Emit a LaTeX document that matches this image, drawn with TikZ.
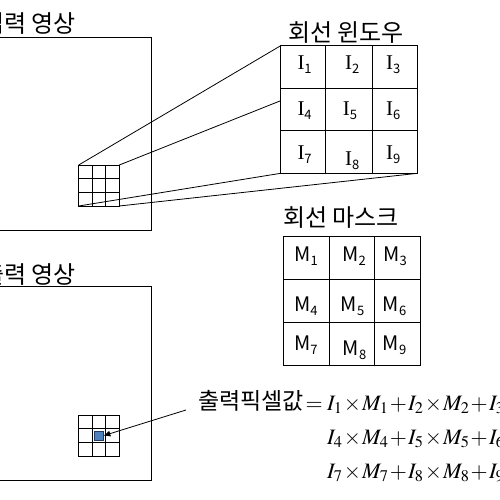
\documentclass[tikz,border=0pt]{standalone}
\usepackage{mathptmx}
\usepackage{fontspec}
\usetikzlibrary{arrows.meta}
\newfontfamily\kr{Noto Sans CJK KR}
\newfontfamily\ser{Liberation Serif}
\newcommand\ilab[1]{{\fontsize{21}{21}\selectfont\ser I}\raisebox{-4pt}{\fontsize{13}{13}\selectfont\kr #1}}
\newcommand\mlab[1]{{\fontsize{20}{20}\selectfont\kr M}\raisebox{-4pt}{\fontsize{13}{13}\selectfont\kr #1}}
\newcommand\tight{\medmuskip=1mu plus 0mu minus 0mu\relax}
\definecolor{pxblue}{HTML}{4F81BD}
\definecolor{pxedge}{HTML}{1F3C64}
\tikzset{
  ttl/.style={inner sep=0pt, font=\kr\fontsize{24}{24}\selectfont},
  lab/.style={inner sep=0pt, anchor=base west},
  frame/.style={line width=0.9pt},
  grid/.style={line width=0.8pt},
  conn/.style={line width=0.8pt},
  eq/.style={inner sep=0pt, anchor=base west, font=\fontsize{22}{22}\selectfont},
}
\begin{document}
\begin{tikzpicture}[x=1pt,y=-1pt]
\useasboundingbox (0,0) rectangle (500,500);
\clip (0,0) rectangle (500,500);
% input image
\node[ttl, anchor=east] (tin) at (76,24) {입력 영상};
\draw[frame] (-20,37.7) rectangle (151,230);
\coordinate (sgTL) at (78.7,165);
\coordinate (sgTR) at (119.3,165);
\coordinate (sgBL) at (78.7,206);
\coordinate (sgBR) at (119.3,206);
\draw[grid] (sgTL) rectangle (sgBR);
\draw[grid] (92.2,165) -- (92.2,206) (105.8,165) -- (105.8,206)
            (78.7,178.7) -- (119.3,178.7) (78.7,192.3) -- (119.3,192.3);
% convolution window
\node[ttl] (twin) at (346,33) {회선 윈도우};
\coordinate (wTL) at (280.7,45.7);
\coordinate (wML) at (280.7,100.7);
\coordinate (wBL) at (280.7,173.3);
\coordinate (wBR) at (417.7,173.3);
\draw[frame] (wTL) rectangle (417.7,173.3);
\draw[grid] (325.7,45.7) -- (325.7,173.3) (372.3,45.7) -- (372.3,173.3)
            (280.7,88.3) -- (417.7,88.3) (280.7,130) -- (417.7,130);
\draw[conn] (sgTL) -- (wTL);
\draw[conn] (sgTR) -- (wML);
\draw[conn] (sgBL) -- (wBL);
\draw[conn] (sgBR) -- (wBR);
\node[lab] (i1) at (297.3,69.3) {\ilab{1}};
\node[lab] (i2) at (345,69.3) {\ilab{2}};
\node[lab] (i3) at (386,69.3) {\ilab{3}};
\node[lab] (i4) at (297.3,116) {\ilab{4}};
\node[lab] (i5) at (342.7,116) {\ilab{5}};
\node[lab] (i6) at (386,116) {\ilab{6}};
\node[lab] (i7) at (297.3,159.3) {\ilab{7}};
\node[lab] (i8) at (345,165) {\ilab{8}};
\node[lab] (i9) at (386,159.3) {\ilab{9}};
% mask
\node[ttl] (tmask) at (341,217.5) {회선 마스크};
\draw[frame] (283.3,236) rectangle (420.7,365);
\draw[grid] (329,236) -- (329,365) (374.3,236) -- (374.3,365)
            (283.3,279.3) -- (420.7,279.3) (283.3,322.3) -- (420.7,322.3);
\node[lab] (m1) at (294.3,261.7) {\mlab{1}};
\node[lab] (m2) at (342.3,261.7) {\mlab{2}};
\node[lab] (m3) at (383.3,261.7) {\mlab{3}};
\node[lab] (m4) at (294,311.7) {\mlab{4}};
\node[lab] (m5) at (340.7,311.7) {\mlab{5}};
\node[lab] (m6) at (382.7,311.7) {\mlab{6}};
\node[lab] (m7) at (294,350.7) {\mlab{7}};
\node[lab] (m8) at (342.7,355) {\mlab{8}};
\node[lab] (m9) at (382.7,350.7) {\mlab{9}};
% output image
\node[ttl, anchor=east] (tout) at (76,274) {출력 영상};
\draw[frame] (-20,286) rectangle (151,480);
\draw[grid] (78.7,415) rectangle (119.3,456);
\draw[grid] (92.2,415) -- (92.2,456) (105.8,415) -- (105.8,456)
            (78.7,428.7) -- (119.3,428.7) (78.7,442.3) -- (119.3,442.3);
\node[draw=pxedge, fill=pxblue, line width=0.8pt, minimum size=8.5pt, inner sep=0pt] (px) at (98.7,435.7) {};
\coordinate (arrstart) at (186,410);
\draw[conn, -{Latex[length=7pt,width=6pt]}] (arrstart) -- (px.east);
% equation
\node[inner sep=0pt, anchor=east, font=\kr\fontsize{23}{23}\selectfont] (tval) at (304,401) {출력픽셀값};
\node[eq, anchor=base east] (eqs) at (323,410) {$=$};
\node[eq] (eq1) at (327,410) {$\tight I_1\times M_1+I_2\times M_2+I_3\times M_3+$};
\node[eq] (eq2) at (327,444) {$\tight I_4\times M_4+I_5\times M_5+I_6\times M_6+$};
\node[eq] (eq3) at (327,478) {$\tight I_7\times M_7+I_8\times M_8+I_9\times M_9$};
\end{tikzpicture}
\end{document}
